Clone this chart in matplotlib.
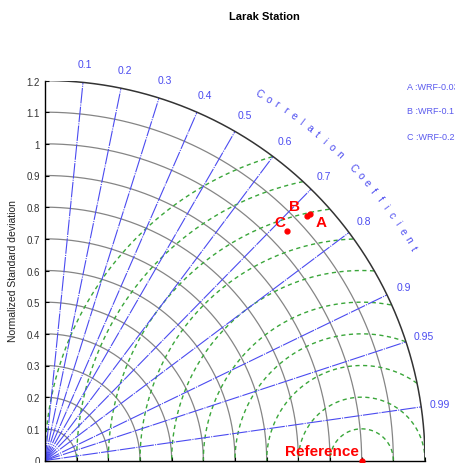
import numpy as np
import matplotlib
matplotlib.use("Agg")
import matplotlib.pyplot as plt

plt.rcParams['font.family'] = ['Liberation Sans', 'DejaVu Sans']

# Taylor diagram values
std_ticks = [0.1, 0.2, 0.3, 0.4, 0.5, 0.6, 0.7, 0.8, 0.9, 1.0, 1.1, 1.2]
corr_ticks = [0.1, 0.2, 0.3, 0.4, 0.5, 0.6, 0.7, 0.8, 0.9, 0.95, 0.99]
rms_levels = [0.1, 0.2, 0.3, 0.4, 0.5, 0.6, 0.7, 0.8, 0.9, 1.0]
ref_std = 1.0

models = ['A', 'B', 'C']
model_names = ['WRF-0.03', 'WRF-0.1', 'WRF-0.25']
model_std = [1.143, 1.132, 1.054]
model_corr = [0.7316, 0.7305, 0.7254]

std_max = 1.2
blue = '#4b4bf0'
green = '#3aa63a'

fig = plt.figure(figsize=(4.55, 4.64), dpi=100)
ax = fig.add_axes([45 / 455, 2.5 / 464, 380 / 455, 380 / 464])
ax.set_xlim(0, std_max)
ax.set_ylim(0, std_max)
ax.set_aspect('equal')

theta = np.linspace(0, np.pi / 2, 400)

# standard deviation arcs
for s in std_ticks[:-1]:
    ax.plot(s * np.cos(theta), s * np.sin(theta), color='#858585', lw=0.9, zorder=1)
ax.plot(std_max * np.cos(theta), std_max * np.sin(theta), color='#333333', lw=1.1, zorder=3)

# RMS difference circles around the reference, kept inside the outer arc
phi = np.linspace(0, np.pi, 600)
for r in rms_levels:
    x = ref_std + r * np.cos(phi)
    y = r * np.sin(phi)
    inside = (x ** 2 + y ** 2 <= std_max ** 2) & (x >= 0)
    ax.plot(np.where(inside, x, np.nan), np.where(inside, y, np.nan),
            color=green, lw=1.0, ls=(0, (3, 2.5)), zorder=2)

# correlation rays and labels
for c in corr_ticks:
    a = np.arccos(c)
    ax.plot([0, std_max * np.cos(a)], [0, std_max * np.sin(a)],
            color=blue, lw=0.8, ls=(0, (14, 1, 1, 1)), zorder=2)
    ax.text(1.26 * np.cos(a), 1.26 * np.sin(a), f'{c:g}', color=blue,
            fontsize=7.5, ha='center', va='center', clip_on=False)

# curved axis title
title_txt = 'Correlation Coefficient'
for i, ch in enumerate(title_txt):
    a = np.radians(59.7 - 1.35 * i)
    ax.text(1.343 * np.cos(a), 1.343 * np.sin(a), ch, color=blue, fontsize=7.5,
            rotation=np.degrees(a) - 90, ha='center', va='center', clip_on=False)

# reference point
ax.plot([ref_std], [0], 'o', color='red', ms=3.5, clip_on=False, zorder=5)
ax.annotate('Reference', (ref_std, 0), xytext=(-28.5, 7), textcoords='offset points',
            color='red', fontsize=11, fontweight='bold', ha='center', va='center',
            annotation_clip=False, zorder=5)

# model points
offsets = [(8, -6), (-9, 7), (-5, 6)]
for lab, s, c, off in zip(models, model_std, model_corr, offsets):
    a = np.arccos(c)
    ax.plot([s * np.cos(a)], [s * np.sin(a)], 'o', color='red', ms=3.5, zorder=5)
    ax.annotate(lab, (s * np.cos(a), s * np.sin(a)), xytext=off, textcoords='offset points',
                color='red', fontsize=11, fontweight='bold', ha='center', va='center', zorder=5)

# model legend in the corner
for i, (lab, name) in enumerate(zip(models, model_names)):
    fig.text(407 / 455, 1 - (87 + 25 * i) / 464, f'{lab} :{name}', color='#5a5aee',
             fontsize=6.5, ha='left', va='center')

ax.spines['top'].set_visible(False)
ax.spines['right'].set_visible(False)
ax.spines['left'].set_linewidth(1.0)
ax.spines['bottom'].set_linewidth(1.0)
ax.set_yticks([0] + std_ticks)
ax.set_yticklabels(['0'] + [f'{s:g}' for s in std_ticks])
ax.set_xticks([0] + std_ticks)
ax.tick_params(axis='y', direction='in', length=3, labelsize=7, labelcolor='#333333')
ax.tick_params(axis='x', direction='in', length=3, labelbottom=False)
ax.set_ylabel('Normalized Standard deviation', fontsize=7.5, color='#222222', labelpad=6)

fig.text(264 / 455, 1 - 17 / 464, 'Larak Station', fontsize=8, fontweight='bold',
         ha='center', va='center')

fig.savefig('out.png', dpi=100)
